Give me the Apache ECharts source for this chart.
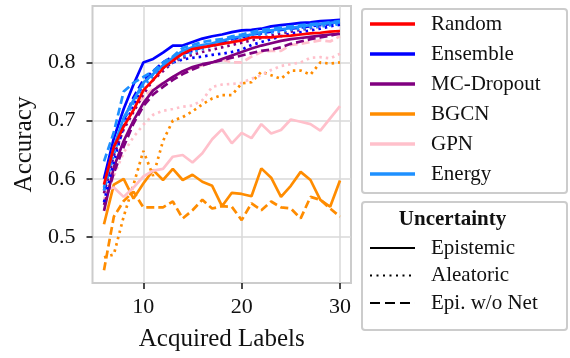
<!DOCTYPE html>
<html>
<head>
<meta charset="utf-8">
<script src="https://cdn.jsdelivr.net/npm/echarts@6/dist/echarts.min.js"></script>
<style>html,body{margin:0;padding:0;background:#fff;}#c{width:570px;height:358px;}</style>
</head>
<body>
<div id="c"></div>
<script>
const acquired = [6,7,8,9,10,11,12,13,14,15,16,17,18,19,20,21,22,23,24,25,26,27,28,29,30];
const xTicks = [10, 20, 30];
const yTicks = [0.5, 0.6, 0.7, 0.8];
const methods = ['Random','Ensemble','MC-Dropout','BGCN','GPN','Energy'];
const uncertaintyTypes = ['Epistemic','Aleatoric','Epi. w/o Net'];

const randomEpi = [0.590,0.655,0.690,0.718,0.752,0.770,0.790,0.803,0.815,0.823,0.826,0.829,0.832,0.835,0.838,0.843,0.843,0.843,0.845,0.846,0.848,0.850,0.851,0.853,0.854];

const ensembleEpi = [0.600,0.670,0.720,0.762,0.800,0.806,0.817,0.829,0.829,0.835,0.841,0.845,0.848,0.852,0.855,0.856,0.858,0.862,0.864,0.866,0.868,0.869,0.871,0.872,0.873];
const ensembleAle = [0.560,0.630,0.690,0.725,0.765,0.780,0.790,0.800,0.805,0.808,0.810,0.813,0.815,0.818,0.822,0.830,0.835,0.840,0.845,0.850,0.852,0.855,0.858,0.862,0.865];
const ensembleNoNet = [0.580,0.650,0.700,0.740,0.770,0.785,0.800,0.810,0.815,0.820,0.826,0.830,0.835,0.840,0.843,0.848,0.850,0.853,0.856,0.858,0.860,0.862,0.864,0.866,0.868];

const mcEpi = [0.545,0.620,0.665,0.700,0.730,0.752,0.764,0.775,0.785,0.792,0.797,0.800,0.806,0.812,0.818,0.824,0.829,0.833,0.837,0.840,0.842,0.844,0.846,0.848,0.849];
const mcAle = [0.575,0.640,0.685,0.715,0.745,0.770,0.785,0.800,0.808,0.813,0.818,0.822,0.826,0.830,0.834,0.838,0.842,0.846,0.850,0.853,0.856,0.859,0.862,0.865,0.868];
const mcNoNet = [0.555,0.610,0.655,0.695,0.725,0.745,0.758,0.770,0.780,0.788,0.795,0.800,0.804,0.808,0.812,0.816,0.820,0.822,0.826,0.832,0.836,0.840,0.843,0.846,0.850];

const bgcnEpi = [0.522,0.590,0.600,0.566,0.592,0.615,0.598,0.617,0.598,0.607,0.595,0.588,0.553,0.576,0.574,0.570,0.618,0.602,0.569,0.588,0.612,0.598,0.564,0.552,0.597];
const bgcnAle = [0.465,0.470,0.535,0.590,0.648,0.605,0.665,0.700,0.706,0.716,0.728,0.738,0.744,0.744,0.764,0.766,0.784,0.778,0.772,0.786,0.786,0.779,0.800,0.798,0.800];
const bgcnNoNet = [0.443,0.535,0.562,0.578,0.551,0.551,0.551,0.561,0.532,0.546,0.564,0.549,0.553,0.552,0.529,0.558,0.546,0.561,0.551,0.549,0.532,0.569,0.564,0.549,0.535];

const gpnEpi = [0.580,0.585,0.569,0.585,0.604,0.614,0.617,0.638,0.641,0.628,0.644,0.668,0.685,0.661,0.679,0.670,0.694,0.678,0.684,0.702,0.698,0.694,0.683,0.704,0.725];
const gpnAle = [0.565,0.605,0.645,0.672,0.693,0.710,0.717,0.720,0.724,0.726,0.735,0.758,0.762,0.763,0.765,0.772,0.778,0.787,0.794,0.797,0.800,0.808,0.809,0.807,0.815];
const gpnNoNet = [0.600,0.650,0.690,0.720,0.740,0.755,0.765,0.775,0.783,0.790,0.795,0.800,0.805,0.800,0.800,0.810,0.818,0.820,0.820,0.830,0.832,0.835,0.838,0.836,0.845];

const energyEpi = [0.585,0.655,0.705,0.735,0.765,0.780,0.795,0.808,0.820,0.826,0.830,0.833,0.837,0.842,0.845,0.848,0.852,0.855,0.857,0.859,0.862,0.864,0.866,0.868,0.869];
const energyAle = [0.580,0.640,0.700,0.730,0.760,0.775,0.790,0.800,0.810,0.818,0.823,0.828,0.832,0.837,0.840,0.845,0.848,0.851,0.853,0.856,0.858,0.860,0.862,0.864,0.866];
const energyNoNet = [0.630,0.680,0.750,0.765,0.775,0.785,0.800,0.810,0.825,0.830,0.835,0.838,0.840,0.845,0.848,0.852,0.856,0.858,0.860,0.862,0.864,0.866,0.867,0.869,0.871];

const FONT = '"Liberation Serif", "Times New Roman", serif';
const DOT = [2.5, 4];
const DASH = [8, 4];
const colors = {
  'Random': '#ff0000', 'Ensemble': '#0000ff', 'MC-Dropout': '#800080',
  'BGCN': '#ff8c00', 'GPN': '#ffc0cb', 'Energy': '#1e90ff'
};

function mk(name, arr, color, type) {
  return {
    type: 'line', name: name,
    data: acquired.map((x, i) => [x, arr[i]]),
    symbol: 'none', showSymbol: false, silent: true,
    lineStyle: { color: color, width: 2.7, type: type },
    itemStyle: { color: color },
    emphasis: { disabled: true }
  };
}

const series = [
  mk('BGCN', bgcnEpi, colors.BGCN, 'solid'),
  mk('BGCN', bgcnAle, colors.BGCN, DOT),
  mk('BGCN', bgcnNoNet, colors.BGCN, DASH),
  mk('GPN', gpnEpi, colors.GPN, 'solid'),
  mk('GPN', gpnAle, colors.GPN, DOT),
  mk('GPN', gpnNoNet, colors.GPN, DASH),
  mk('MC-Dropout', mcEpi, colors['MC-Dropout'], 'solid'),
  mk('MC-Dropout', mcAle, colors['MC-Dropout'], DOT),
  mk('MC-Dropout', mcNoNet, colors['MC-Dropout'], DASH),
  mk('Ensemble', ensembleEpi, colors.Ensemble, 'solid'),
  mk('Ensemble', ensembleAle, colors.Ensemble, DOT),
  mk('Ensemble', ensembleNoNet, colors.Ensemble, DASH),
  mk('Energy', energyEpi, colors.Energy, 'solid'),
  mk('Energy', energyAle, colors.Energy, DOT),
  mk('Energy', energyNoNet, colors.Energy, DASH),
  mk('Random', randomEpi, colors.Random, 'solid'),
  mk('Epistemic', [], '#000', 'solid'),
  mk('Aleatoric', [], '#000', [2, 3]),
  mk('Epi. w/o Net', [], '#000', [7, 4])
];

const ICON_SOLID = 'path://M0,0h45v2h-45z';
const ICON_DOT = 'path://M0,0h2v2h-2zM6.5,0h2v2h-2zM13,0h2v2h-2zM19.5,0h2v2h-2zM26,0h2v2h-2zM32.5,0h2v2h-2zM39,0h2v2h-2zM45,0h0.01v2h-0.01z';
const ICON_DASH = 'path://M0,0h10v2h-10zM15,0h10v2h-10zM30,0h10v2h-10zM45,0h0.01v2h-0.01z';
const uncertaintyIcons = [ICON_SOLID, ICON_DOT, ICON_DASH];

const chart = echarts.init(document.getElementById('c'), null, { renderer: 'canvas' });
chart.setOption({
  animation: false,
  backgroundColor: '#ffffff',
  textStyle: { fontFamily: FONT },
  grid: { left: 92.5, top: 6, right: 219, bottom: 75, show: true, borderColor: '#cccccc', borderWidth: 2, containLabel: false },
  xAxis: {
    type: 'value', min: 4.83, max: 31.12,
    name: 'Acquired Labels', nameLocation: 'middle', nameGap: 44,
    nameTextStyle: { fontFamily: FONT, fontSize: 25, color: '#111' },
    axisLine: { show: false },
    axisTick: { show: true, length: 6, lineStyle: { color: '#111', width: 1.5 }, customValues: xTicks },
    axisLabel: { fontFamily: FONT, fontSize: 22, color: '#111', margin: 13, customValues: xTicks },
    splitLine: { show: true, lineStyle: { color: '#d9d9d9', width: 1.5 } }
  },
  yAxis: {
    type: 'value', min: 0.421, max: 0.897,
    name: 'Accuracy', nameLocation: 'middle', nameGap: 56, nameRotate: 90,
    nameTextStyle: { fontFamily: FONT, fontSize: 25, color: '#111' },
    axisLine: { show: false },
    axisTick: { show: true, length: 6, lineStyle: { color: '#111', width: 1.5 }, customValues: yTicks },
    axisLabel: { fontFamily: FONT, fontSize: 22, color: '#111', margin: 17, customValues: yTicks, formatter: v => v.toFixed(1) },
    splitLine: { show: true, lineStyle: { color: '#d9d9d9', width: 1.5 } }
  },
  legend: [
    {
      data: methods, orient: 'vertical', left: 370, top: 13, padding: 0,
      itemWidth: 45, itemHeight: 3.5, itemGap: 8, selectedMode: false,
      icon: 'rect',
      itemStyle: { borderWidth: 0 },
      textStyle: { fontFamily: FONT, fontSize: 21, color: '#111', lineHeight: 22, padding: [0, 0, 0, 11] }
    },
    {
      data: uncertaintyTypes.map((n, i) => ({ name: n, icon: uncertaintyIcons[i] })),
      orient: 'vertical', left: 370, top: 237, padding: 0,
      itemWidth: 45, itemHeight: 2.2, itemGap: 5.5, selectedMode: false,
      itemStyle: { borderWidth: 0 },
      textStyle: { fontFamily: FONT, fontSize: 21, color: '#111', lineHeight: 22, padding: [0, 0, 0, 11] }
    }
  ],
  graphic: [
    { type: 'rect', shape: { x: 362, y: 9, width: 205, height: 184, r: 3 }, style: { fill: 'none', stroke: '#cccccc', lineWidth: 2 }, z: 1 },
    { type: 'rect', shape: { x: 362, y: 202, width: 205, height: 128, r: 3 }, style: { fill: 'none', stroke: '#cccccc', lineWidth: 2 }, z: 1 },
    { type: 'text', x: 452.5, y: 220, style: { text: 'Uncertainty', fontFamily: FONT, fontSize: 21, fontWeight: 'bold', fill: '#111', align: 'center', verticalAlign: 'middle' }, z: 2 }
  ],
  series: series
});
</script>
</body>
</html>
